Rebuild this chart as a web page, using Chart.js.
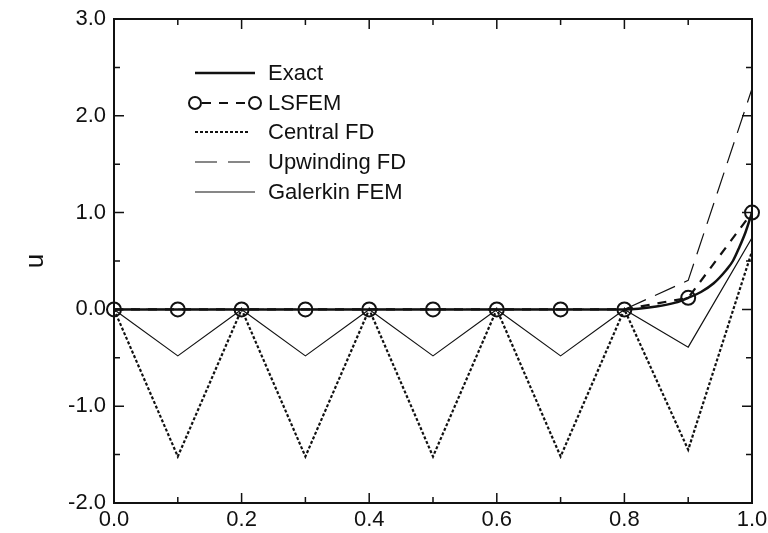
<!DOCTYPE html>
<html>
<head>
<meta charset="utf-8">
<script src="https://cdn.jsdelivr.net/npm/chart.js@4.4.1/dist/chart.umd.min.js"></script>
<style>
  html, body { margin: 0; padding: 0; background: #ffffff; }
  #wrap { width: 768px; height: 533px; }
</style>
</head>
<body>
<div id="wrap"><canvas id="c" width="768" height="533"></canvas></div>
<script>
// ---- Data ----
const xNodes     = [0.0, 0.1, 0.2, 0.3, 0.4, 0.5, 0.6, 0.7, 0.8, 0.9, 1.0];
const lsfem      = [0, 0, 0, 0, 0, 0, 0, 0, 0, 0.12, 1.0];
const centralFD  = [0, -1.52, 0, -1.52, 0, -1.52, 0, -1.52, 0, -1.45, 0.6];
const upwindFD   = [0, 0, 0, 0, 0, 0, 0, 0, 0, 0.30, 2.28];
const galerkin   = [0, -0.48, 0, -0.48, 0, -0.48, 0, -0.48, 0, -0.39, 0.74];
const exactX     = [0.0, 0.8, 0.85, 0.88, 0.90, 0.92, 0.94, 0.96, 0.97, 0.98, 0.99, 1.0];
const exactU     = [0, 0, 0.03, 0.07, 0.12, 0.18, 0.27, 0.41, 0.50, 0.64, 0.80, 1.0];
const seriesNames = ['Exact', 'LSFEM', 'Central FD', 'Upwinding FD', 'Galerkin FEM'];
const xTickValues = [0.0, 0.1, 0.2, 0.3, 0.4, 0.5, 0.6, 0.7, 0.8, 0.9, 1.0];
const yTickValues = [-2.0, -1.5, -1.0, -0.5, 0.0, 0.5, 1.0, 1.5, 2.0, 2.5, 3.0];
const axisTitleY = 'u';

const pts = (xs, ys) => xs.map((x, i) => ({ x: x, y: ys[i] }));
const FONT = "'Liberation Sans', Arial, Helvetica, sans-serif";

const styles = [
  { borderWidth: 2.5, borderDash: [] },
  { borderWidth: 2.2, borderDash: [9, 8] },
  { borderWidth: 2.2, borderDash: [3, 2] },
  { borderWidth: 1.2, borderDash: [22, 10] },
  { borderWidth: 1.2, borderDash: [] }
];

const datasets = [
  { label: seriesNames[0], data: pts(exactX, exactU), cubicInterpolationMode: 'monotone', pointRadius: 0 },
  { label: seriesNames[1], data: pts(xNodes, lsfem), pointRadius: 7, pointStyle: 'circle',
    pointBorderWidth: 2, pointBorderColor: '#111', pointBackgroundColor: 'rgba(0,0,0,0)', clip: false },
  { label: seriesNames[2], data: pts(xNodes, centralFD), pointRadius: 0 },
  { label: seriesNames[3], data: pts(xNodes, upwindFD), pointRadius: 0 },
  { label: seriesNames[4], data: pts(xNodes, galerkin), pointRadius: 0 }
].map((d, i) => Object.assign({
  borderColor: '#111', backgroundColor: '#111', fill: false, tension: 0,
  borderWidth: styles[i].borderWidth, borderDash: styles[i].borderDash
}, d));

const framePlugin = {
  id: 'frame',
  afterDatasetsDraw(chart) {
    const { ctx, chartArea: a, scales } = chart;
    ctx.save();
    ctx.strokeStyle = '#111';
    ctx.setLineDash([]);
    ctx.lineWidth = 2;
    ctx.strokeRect(a.left, a.top, a.right - a.left, a.bottom - a.top);
    ctx.lineWidth = 1.5;
    ctx.beginPath();
    xTickValues.forEach((v, i) => {
      const px = scales.x.getPixelForValue(v);
      const len = (i % 2 === 0) ? 10 : 6;
      ctx.moveTo(px, a.bottom); ctx.lineTo(px, a.bottom - len);
      ctx.moveTo(px, a.top); ctx.lineTo(px, a.top + len);
    });
    yTickValues.forEach((v) => {
      const py = scales.y.getPixelForValue(v);
      const len = Number.isInteger(v) ? 10 : 6;
      ctx.moveTo(a.left, py); ctx.lineTo(a.left + len, py);
      ctx.moveTo(a.right, py); ctx.lineTo(a.right - len, py);
    });
    ctx.stroke();

    // legend
    const rows = [73, 103, 132, 162, 192];
    const x1 = 195, x2 = 255, tx = 268;
    ctx.font = '22px ' + FONT;
    ctx.fillStyle = '#111';
    ctx.textBaseline = 'middle';
    ctx.textAlign = 'left';
    chart.data.datasets.forEach((ds, i) => {
      const y = rows[i];
      ctx.lineWidth = ds.borderWidth;
      ctx.setLineDash(ds.borderDash || []);
      ctx.beginPath();
      if (i === 1) {
        ctx.moveTo(x1 + 7, y); ctx.lineTo(x2 - 7, y);
      } else if (i === 3) {
        ctx.setLineDash([]);
        ctx.moveTo(x1, y); ctx.lineTo(x1 + 22, y);
        ctx.moveTo(x1 + 33, y); ctx.lineTo(x2 - 5, y);
      } else if (i === 2) {
        ctx.moveTo(x1, y); ctx.lineTo(x2 - 5, y);
      } else {
        ctx.moveTo(x1, y); ctx.lineTo(x2, y);
      }
      ctx.stroke();
      if (i === 1) {
        ctx.setLineDash([]);
        ctx.lineWidth = 2;
        ctx.beginPath(); ctx.arc(x1, y, 6, 0, Math.PI * 2); ctx.stroke();
        ctx.beginPath(); ctx.arc(x2, y, 6, 0, Math.PI * 2); ctx.stroke();
      }
      ctx.fillText(ds.label, tx, y + 1);
    });
    ctx.restore();
  }
};

new Chart(document.getElementById('c'), {
  type: 'line',
  data: { datasets: datasets },
  options: {
    responsive: false,
    devicePixelRatio: 1,
    animation: false,
    layout: { padding: { top: 19, right: 16, left: 0, bottom: 0 } },
    plugins: { legend: { display: false }, tooltip: { enabled: false } },
    scales: {
      x: {
        type: 'linear', min: 0, max: 1,
        grid: { display: false, drawTicks: false, tickLength: 0 }, border: { display: false },
        ticks: { stepSize: 0.2, color: '#111', padding: 4, maxRotation: 0,
                 font: { family: FONT, size: 22 },
                 callback: (v) => Number(v).toFixed(1) },
        afterFit: (s) => { s.height = 30; s.paddingLeft = 0; s.paddingRight = 0; }
      },
      y: {
        type: 'linear', min: -2, max: 3,
        grid: { display: false, drawTicks: false, tickLength: 0 }, border: { display: false },
        title: { display: true, text: axisTitleY, color: '#111',
                 font: { family: FONT, size: 26 }, padding: { top: 20, bottom: 0 } },
        ticks: { stepSize: 1, color: '#111', padding: 8,
                 font: { family: FONT, size: 22 },
                 callback: (v) => Number(v).toFixed(1) },
        afterFit: (s) => { s.width = 114; s.paddingTop = 0; s.paddingBottom = 0; }
      }
    }
  },
  plugins: [framePlugin]
});
</script>
</body>
</html>
